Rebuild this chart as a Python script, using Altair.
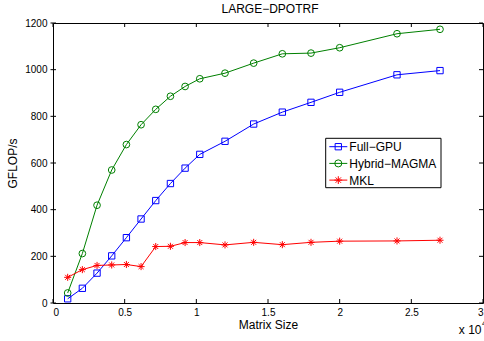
import altair as alt
import pandas as pd

# ---- data ----
sizes = [1024, 2048, 3072, 4096, 5120, 6144, 7168, 8192, 9216, 10240,
         12000, 14000, 16000, 18000, 20000, 24000, 27000]
full_gpu = [18, 63, 128, 202, 280, 360, 439, 512, 578, 637,
            693, 767, 818, 860, 903, 978, 996]
hybrid = [43, 212, 419, 570, 679, 764, 830, 886, 928, 961,
          985, 1028, 1068, 1071, 1094, 1154, 1173]
mkl = [110, 143, 161, 163, 165, 156, 242, 243, 259, 259,
       249, 260, 250, 260, 265, 266, 269]

series_names = ["Full\u2212GPU", "Hybrid\u2212MAGMA", "MKL"]
series_colors = ["#0000ff", "#008000", "#ff0000"]
star = "M-1,0L1,0M0,-1L0,1M-0.7,-0.7L0.7,0.7M-0.7,0.7L0.7,-0.7"
series_shapes = ["square", "circle", star]
series_sizes = [40, 50, 60]

x_ticks = [0, 0.5, 1, 1.5, 2, 2.5, 3]
y_ticks = [0, 200, 400, 600, 800, 1000, 1200]

W, H = 430, 280
FONT = "Liberation Sans"

rows = []
for name, vals in zip(series_names, [full_gpu, hybrid, mkl]):
    for s, v in zip(sizes, vals):
        rows.append({"series": name, "size": s / 1e4, "gflops": v})
df = pd.DataFrame(rows)

xs = alt.Scale(domain=[0, 3], nice=False, zero=False)
ys = alt.Scale(domain=[0, 1200], nice=False)
cs = alt.Scale(domain=series_names, range=series_colors)
ss = alt.Scale(domain=series_names, range=series_shapes)

base = alt.Chart(df)
lines = base.mark_line(strokeWidth=1).encode(
    x=alt.X("size:Q", scale=xs,
            axis=alt.Axis(values=x_ticks, format="~g", title="Matrix Size",
                          labelPadding=4, titlePadding=2)),
    y=alt.Y("gflops:Q", scale=ys,
            axis=alt.Axis(values=y_ticks, format="d", title="GFLOP/s",
                          labelPadding=6, titlePadding=5)),
    color=alt.Color("series:N", scale=cs, legend=None),
    detail="series:N",
)
points = base.mark_point(filled=False, strokeWidth=1, opacity=1).encode(
    x=alt.X("size:Q", scale=xs),
    y=alt.Y("gflops:Q", scale=ys),
    color=alt.Color("series:N", scale=cs, legend=None),
    shape=alt.Shape("series:N", scale=ss, legend=None),
    size=alt.Size("series:N", scale=alt.Scale(domain=series_names, range=series_sizes), legend=None),
)

# box-style ticks
xt = pd.DataFrame({"v": x_ticks})
yt = pd.DataFrame({"v": y_ticks})
xtick_b = alt.Chart(xt).mark_rule(color="black", strokeWidth=1).encode(
    x=alt.X("v:Q", scale=xs), y=alt.value(H), y2=alt.value(H - 4))
xtick_t = alt.Chart(xt).mark_rule(color="black", strokeWidth=1).encode(
    x=alt.X("v:Q", scale=xs), y=alt.value(0), y2=alt.value(4))
ytick_l = alt.Chart(yt).mark_rule(color="black", strokeWidth=1).encode(
    y=alt.Y("v:Q", scale=ys), x=alt.value(-2.5), x2=alt.value(3))
ytick_r = alt.Chart(yt).mark_rule(color="black", strokeWidth=1).encode(
    y=alt.Y("v:Q", scale=ys), x=alt.value(W), x2=alt.value(W - 4))

one = pd.DataFrame({"a": [0]})
exp_base = alt.Chart(one).mark_text(text="x 10", align="right", baseline="alphabetic",
                                    font=FONT, fontSize=12, color="black").encode(
    x=alt.value(428.5), y=alt.value(311))
exp_sup = alt.Chart(one).mark_text(text="4", align="left", baseline="alphabetic",
                                   font=FONT, fontSize=9, color="black").encode(
    x=alt.value(429), y=alt.value(303))

# legend box
leg_x0, leg_x1, leg_y0, leg_y1 = 272.7, 388, 115.3, 164.7
legend_layers = [
    alt.Chart(one).mark_rect(fill="white", stroke="black", strokeWidth=1).encode(
        x=alt.value(leg_x0), x2=alt.value(leg_x1), y=alt.value(leg_y0), y2=alt.value(leg_y1))
]
for i, (name, col, shp, sz) in enumerate(zip(series_names, series_colors, series_shapes, series_sizes)):
    ly = 123.7 + i * 16.7
    legend_layers.append(alt.Chart(one).mark_rule(color=col, strokeWidth=1).encode(
        x=alt.value(276.3), x2=alt.value(294.3), y=alt.value(ly)))
    legend_layers.append(alt.Chart(one).mark_point(shape=shp, filled=False, color=col,
                                                   size=sz, strokeWidth=1, opacity=1).encode(
        x=alt.value(285.3), y=alt.value(ly)))
    legend_layers.append(alt.Chart(one).mark_text(text=name, align="left", baseline="middle",
                                                  font=FONT, fontSize=12, color="black").encode(
        x=alt.value(296.3), y=alt.value(ly + 0.5)))

chart = alt.layer(lines, points, xtick_b, xtick_t, ytick_l, ytick_r,
                  exp_base, exp_sup, *legend_layers).properties(
    width=W, height=H,
    title=alt.TitleParams("LARGE\u2212DPOTRF", font=FONT, fontSize=12,
                          fontWeight="normal", color="black", offset=2, dx=2),
    autosize=alt.AutoSizeParams(type="none"),
    padding={"left": 53, "top": 23, "right": 1, "bottom": 38},
    background="white",
).configure_view(stroke="black", strokeWidth=1).configure_axis(
    grid=False, ticks=False, domain=False,
    labelFont=FONT, labelFontSize=10, labelColor="black",
    titleFont=FONT, titleFontSize=12, titleFontWeight="normal", titleColor="black",
)

chart.save("out.html", embed_options={"renderer": "svg", "actions": False})
